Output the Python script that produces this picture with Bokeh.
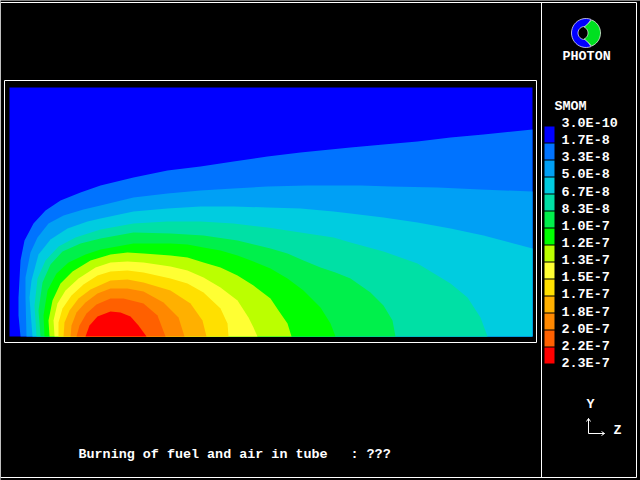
import math
from bokeh.plotting import figure
from bokeh.models import Range1d
from bokeh.core.properties import value
from bokeh.embed import file_html
from bokeh.resources import INLINE

# Chart content -------------------------------------------------------
TITLE_LEFT = "Burning of fuel and air in tube"
TITLE_RIGHT = ": ???"
VARIABLE = "SMOM"
LEVEL_LABELS = ["3.0E-10", "1.7E-8", "3.3E-8", "5.0E-8", "6.7E-8", "8.3E-8", "1.0E-7", "1.2E-7",
                "1.3E-7", "1.5E-7", "1.7E-7", "1.8E-7", "2.0E-7", "2.2E-7", "2.3E-7"]
BAND_COLORS = ["#0000FF", "#0073FF", "#00A0F5", "#00CCE0", "#00E0A5", "#00F04B", "#00FF00",
               "#BBFF00", "#FFFF33", "#FFE000", "#FFB000", "#FF8800", "#FF6000", "#FF0000"]

# Field domain, in picture units
Z_MIN, Z_MAX = 9, 532
Y_TOP, Y_BOT = 87, 336

# Iso-lines: (z, y) per contour, from outer to inner
C1_Z = [20, 18, 18, 20, 24, 33, 45, 60, 80, 100, 133, 167, 200, 233, 267, 300, 320, 350, 383, 417, 450, 483, 532]
C1_Y = [336, 315, 297, 260, 240, 223, 210, 200, 192, 185, 177, 170, 166, 161, 156, 152, 150, 147, 144, 141, 137, 134, 129]
C2_Z = [26, 25, 25, 27, 30, 37, 48, 63, 83, 100, 133, 167, 200, 233, 267, 307, 360, 390, 437, 480, 532]
C2_Y = [336, 297, 277, 267, 252, 237, 223, 215, 209, 205, 197, 193, 190, 188, 186, 185, 185, 186, 187, 189, 191]
C3_Z = [32, 29, 31, 38, 50, 67, 87, 100, 133, 167, 200, 233, 267, 300, 333, 350, 383, 417, 450, 483, 532]
C3_Y = [336, 297, 280, 254, 239, 228, 221, 218, 211, 208, 206, 206, 207, 208, 211, 213, 217, 222, 228, 235, 248]
C4_Z = [36, 34, 37, 45, 58, 75, 100, 133, 167, 200, 233, 267, 300, 333, 350, 383, 417, 450, 467, 480, 487]
C4_Y = [336, 305, 278, 260, 246, 237, 229, 223, 221, 221, 223, 227, 232, 237, 242, 251, 263, 283, 297, 317, 336]
C5_Z = [40, 38, 42, 50, 62, 80, 100, 133, 170, 203, 237, 270, 287, 303, 320, 335, 350, 370, 383, 392, 395]
C5_Y = [336, 310, 282, 264, 251, 243, 238, 232, 233, 235, 240, 248, 253, 260, 267, 272, 278, 292, 305, 320, 336]
C6_Z = [44, 43, 47, 56, 68, 85, 100, 133, 150, 170, 187, 203, 220, 237, 253, 270, 287, 303, 320, 330, 335]
C6_Y = [336, 315, 290, 273, 262, 254, 249, 243, 243, 243, 244, 247, 250, 255, 261, 268, 278, 290, 307, 323, 336]
C7_Z = [49, 48, 52, 60, 72, 90, 110, 127, 143, 170, 187, 203, 220, 237, 253, 270, 278, 287, 291]
C7_Y = [336, 320, 300, 283, 271, 260, 254, 252, 253, 255, 257, 262, 267, 275, 285, 298, 310, 323, 336]
C8_Z = [54, 53, 57, 65, 78, 95, 110, 127, 143, 170, 187, 203, 220, 237, 248, 253, 257]
C8_Y = [336, 320, 303, 290, 278, 267, 262, 261, 262, 266, 270, 277, 287, 300, 317, 327, 336]
C9_Z = [58, 58, 62, 71, 83, 97, 110, 127, 143, 170, 187, 203, 220, 227, 228]
C9_Y = [336, 322, 308, 295, 284, 275, 271, 270, 272, 278, 283, 292, 308, 323, 336]
C10_Z = [63, 64, 69, 78, 90, 110, 127, 143, 170, 190, 202, 206]
C10_Y = [336, 322, 310, 298, 289, 280, 279, 282, 290, 303, 320, 336]
C11_Z = [70, 71, 76, 85, 97, 110, 127, 143, 163, 178, 184]
C11_Y = [336, 325, 312, 302, 293, 288, 288, 291, 302, 317, 336]
C12_Z = [76, 79, 86, 96, 110, 123, 143, 157, 165]
C12_Y = [336, 325, 313, 304, 298, 298, 303, 315, 336]
C13_Z = [85, 89, 97, 110, 120, 130, 138, 146]
C13_Y = [336, 325, 316, 311, 312, 316, 325, 336]

ISOLINES = [(C1_Z, C1_Y), (C2_Z, C2_Y), (C3_Z, C3_Y), (C4_Z, C4_Y), (C5_Z, C5_Y), (C6_Z, C6_Y), (C7_Z, C7_Y),
            (C8_Z, C8_Y), (C9_Z, C9_Y), (C10_Z, C10_Y), (C11_Z, C11_Y), (C12_Z, C12_Y), (C13_Z, C13_Y)]

FONT = value("Liberation Mono")
SIZE = "13.4px"


def txt(xs, ys, labels, align="left"):
    p.text(x=xs, y=ys, text=labels, text_color="white", text_font=FONT, text_font_size=SIZE,
           text_font_style="bold", text_baseline="middle", text_align=align)


def arc(cx, cy, r, a0, a1, n=24):
    """Points on a circle, with screen angle in degrees (y grows downward)."""
    return ([cx + r * math.cos(math.radians(a0 + (a1 - a0) * i / n)) for i in range(n + 1)],
            [cy - r * math.sin(math.radians(a0 + (a1 - a0) * i / n)) for i in range(n + 1)])


p = figure(width=640, height=480, output_backend="svg", toolbar_location=None,
           x_range=Range1d(0, 640), y_range=Range1d(480, 0),
           min_border=0, background_fill_color="black", border_fill_color="black",
           outline_line_color=None)
p.axis.visible = False
p.grid.visible = False
p.styles = {"position": "absolute", "left": "0px", "top": "0px"}

# Frames
p.quad(left=[0], right=[636], top=[2], bottom=[477], fill_color=None, line_color="white", line_width=1)
p.segment(x0=[541], x1=[541], y0=[2], y1=[477], line_color="white", line_width=1)
p.quad(left=[4], right=[536], top=[80], bottom=[342], fill_color=None, line_color="white", line_width=1)

# Filled contour field
p.quad(left=[Z_MIN], right=[Z_MAX], top=[Y_TOP], bottom=[Y_BOT], fill_color=BAND_COLORS[0], line_color=None)
for color, (zs, ys) in zip(BAND_COLORS[1:], ISOLINES):
    xs, yy = list(zs), list(ys)
    if zs[-1] == Z_MAX:          # contour leaves through the right edge
        xs.append(Z_MAX)
        yy.append(Y_BOT)
    p.patch(xs, yy, fill_color=color, line_color=None)

# Colour key
KEY_TOP = 126
KEY_STEP = 17
tops = [KEY_TOP + i * KEY_STEP for i in range(len(BAND_COLORS))]
bots = [t + KEY_STEP - 1 for t in tops]
p.quad(left=[544] * len(tops), right=[554] * len(tops), top=tops, bottom=bots,
       fill_color=BAND_COLORS, line_color=None)
txt([561] * len(LEVEL_LABELS), [123 + i * 17.14 for i in range(len(LEVEL_LABELS))], LEVEL_LABELS)
txt([554], [106], [VARIABLE])

# Logo: blue "C" around a green crescent
ox, oy = arc(585.5, 32.5, 14.5, 70, 290)
ix, iy = arc(584, 32.5, 6.5, 290, 70)
p.patch(ox + ix, oy + iy, fill_color="#0000FF", line_color="white", line_width=0.7)
gx, gy = arc(586, 32.5, 14, 68, -68)
hx, hy = arc(581, 32.5, 6.5, -65, 65)
p.patch(gx + hx, gy + hy, fill_color="#00E020", line_color="white", line_width=0.7)
txt([562], [56], ["PHOTON"])

# Axis triad
p.segment(x0=[588, 588], y0=[433, 433], x1=[588, 604], y1=[418, 433], line_color="white", line_width=1)
p.segment(x0=[588, 588, 604, 604], y0=[418, 418, 433, 433], x1=[586, 590, 601, 601], y1=[421, 421, 431, 435],
          line_color="white", line_width=1)
txt([590, 617], [404, 430], ["Y", "Z"], "center")

# Title
txt([78], [454], [TITLE_LEFT])
txt([350], [454], [TITLE_RIGHT])

open("out.html", "w").write(file_html(p, INLINE))
